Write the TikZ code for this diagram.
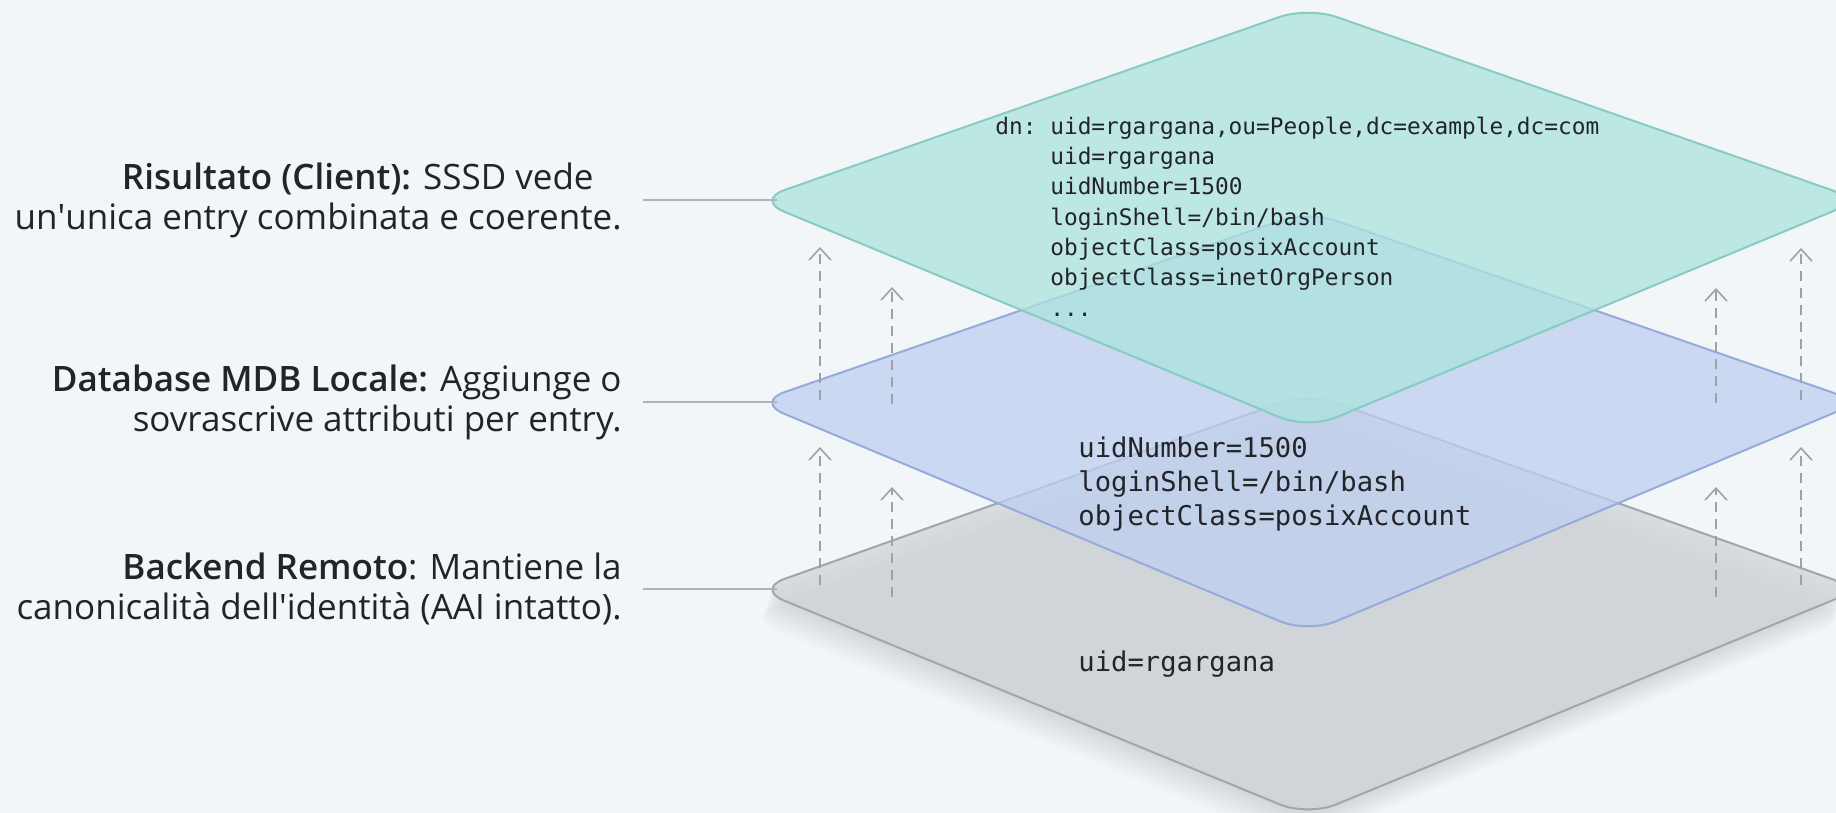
\documentclass[tikz,border=0pt]{standalone}
\usepackage{fontspec}
\setmainfont{Open Sans}[BoldFont={Open Sans Semibold}]
\setmonofont{DejaVu Sans Mono}
\usetikzlibrary{arrows.meta, positioning}

\definecolor{bgcol}{RGB}{243,246,248}
\definecolor{tealfill}{RGB}{172,227,221}
\definecolor{tealline}{RGB}{135,203,193}
\definecolor{bluefill}{RGB}{190,207,241}
\definecolor{blueline}{RGB}{148,172,218}
\definecolor{grayfill}{RGB}{208,211,216}
\definecolor{grayline}{RGB}{162,166,172}
\definecolor{leadcol}{RGB}{176,180,184}
\definecolor{liftcol}{RGB}{158,161,166}
\definecolor{inkcol}{RGB}{34,36,40}

\begin{document}
\begin{tikzpicture}[x=0.5pt, y=-0.5pt,
    plane/.style={rounded corners=15pt, line width=1pt, fill opacity=0.75},
    leader/.style={draw=leadcol, line width=1pt},
    lift/.style={draw=liftcol, line width=0.8pt, dash pattern=on 5pt off 3.5pt, -{Straight Barb[length=6pt, width=11pt]}},
    caption/.style={anchor=east, align=right, inner sep=0pt, text=inkcol, font=\fontsize{17.5}{20}\selectfont},
    ldif/.style={anchor=north west, align=left, inner sep=0pt, text=inkcol}]
    \fill[bgcol] (0,0) rectangle (1836,813);
    \useasboundingbox (0,0) rectangle (1836,813);
    \clip (0,0) rectangle (1836,813);

    % soft shadow under the bottom plane
    \foreach \d in {3,6,...,30}
        \fill[black, fill opacity=0.012, rounded corners=15pt, shift={(-\d/3,\d)}] (1032,491) -- (1308,393) -- (1860,589) -- (1308,816) -- (756,589) -- cycle;

    % the three planes, bottom to top
    \draw[plane, fill=grayfill, draw=grayline] (1032,491) -- (1308,393) -- (1860,589) -- (1308,816) -- (756,589) -- cycle;
    \node[ldif, font=\ttfamily\fontsize{13.6}{17.05}\selectfont] (remotetxt) at (1078,650) {uid=rgargana};

    \draw[plane, fill=bluefill, draw=blueline] (1032,306.5) -- (1308,211) -- (1860,402) -- (1308,633) -- (756,402) -- cycle;
    \node[ldif, font=\ttfamily\fontsize{13.6}{17.05}\selectfont] (mdbtxt) at (1078,436) {uidNumber=1500\\loginShell=/bin/bash\\objectClass=posixAccount};

    \draw[plane, fill=tealfill, draw=tealline] (1032,103.5) -- (1308,7) -- (1860,200) -- (1308,429) -- (756,200) -- cycle;
    \node[ldif, font=\ttfamily\fontsize{11.4}{15.15}\selectfont] (clienttxt) at (995,116.5) {dn: uid=rgargana,ou=People,dc=example,dc=com\\
        \hphantom{dn: }uid=rgargana\\
        \hphantom{dn: }uidNumber=1500\\
        \hphantom{dn: }loginShell=/bin/bash\\
        \hphantom{dn: }objectClass=posixAccount\\
        \hphantom{dn: }objectClass=inetOrgPerson\\
        \hphantom{dn: }...};

    % tips of the planes
    \coordinate (clienttip) at (777,200);
    \coordinate (mdbtip) at (777,402);
    \coordinate (remotetip) at (777,589);

    % captions on the left
    \node[caption] (client) at (622,200) {\textbf{Risultato (Client):} SSSD vede\hspace*{0.8em}\\un\textquotesingle unica entry combinata e coerente.};
    \node[caption] (mdb) at (622,402) {\textbf{Database MDB Locale:} Aggiunge o\\sovrascrive attributi per entry.};
    \node[caption] (remote) at (622,589) {\textbf{Backend Remoto}: Mantiene la\\canonicalità dell\textquotesingle identità (AAI intatto).};

    \draw[leader] ([xshift=10.5pt]client.east) -- (clienttip);
    \draw[leader] ([xshift=10.5pt]mdb.east) -- (mdbtip);
    \draw[leader] ([xshift=10.5pt]remote.east) -- (remotetip);

    % dashed lifts between the planes
    \foreach \x/\ys/\ye [count=\i] in {820/400/247, 892/404/287, 1716/403/288, 1801/400/248,
                                        820/585/447, 892/597/487, 1716/597/487, 1801/585/447} {
        \coordinate (lift\i s) at (\x,\ys);
        \coordinate (lift\i e) at (\x,\ye);
        \draw[lift] (lift\i s) -- (lift\i e);
    }
\end{tikzpicture}
\end{document}
